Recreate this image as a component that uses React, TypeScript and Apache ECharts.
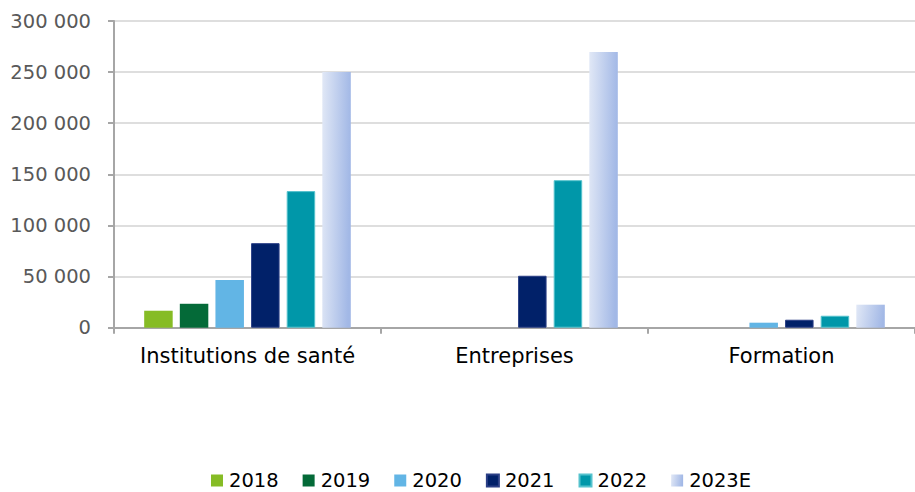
import React, { useEffect, useRef } from "react";
import * as echarts from "echarts";

const categories = ["Institutions de santé", "Entreprises", "Formation"];
const years = ["2018", "2019", "2020", "2021", "2022", "2023E"];
const values2018 = [16600, null, null];
const values2019 = [23400, null, null];
const values2020 = [46600, null, 4900];
const values2021 = [82700, 50800, 7800];
const values2022 = [133600, 144300, 11700];
const values2023E = [250000, 269700, 22500];
const yTicks = { min: 0, max: 300000, interval: 50000 };

const seriesValues = [values2018, values2019, values2020, values2021, values2022, values2023E];

const FONT = "DejaVu Sans, Verdana, sans-serif";

function fmt(v: number): string {
  return String(v).replace(/\B(?=(\d{3})+(?!\d))/g, " ");
}

export default function App() {
  const ref = useRef<HTMLDivElement>(null);
  useEffect(() => {
    if (!ref.current) return;
    const chart = echarts.init(ref.current, undefined, { renderer: "svg" });
    const gradient = new echarts.graphic.LinearGradient(0, 0, 1, 0.12, [
      { offset: 0, color: "#e1e8f6" },
      { offset: 1, color: "#a2b8e6" },
    ]);
    const colors: any[] = ["#86bc25", "#046a38", "#62b5e5", "#012169", "#0097a9", gradient];
    const borders: (string | undefined)[] = [undefined, undefined, undefined, "#2b3f86", "#55c2cd", undefined];
    chart.setOption({
      animation: false,
      grid: { left: 114, width: 807, top: 21, bottom: 164.3, containLabel: false },
      legend: {
        left: 211,
        top: 470.5,
        padding: 0,
        itemWidth: 12,
        itemHeight: 12,
        itemGap: 24,
        icon: "rect",
        textStyle: { fontFamily: FONT, fontSize: 19.5, lineHeight: 19, color: "#000", padding: [0, 0, 0, 1] },
        data: years,
      },
      xAxis: {
        type: "category",
        data: categories,
        axisLine: { lineStyle: { color: "#a6a6a6", width: 2 } },
        axisTick: { show: true, length: 6, lineStyle: { color: "#a6a6a6", width: 2 } },
        axisLabel: { interval: 0, fontFamily: FONT, fontSize: 21, color: "#000", margin: 18 },
      },
      yAxis: {
        type: "value",
        min: yTicks.min,
        max: yTicks.max,
        interval: yTicks.interval,
        axisLine: { show: true, lineStyle: { color: "#a6a6a6", width: 2 } },
        axisTick: { show: true, length: 6, lineStyle: { color: "#a6a6a6", width: 2 } },
        splitLine: { lineStyle: { color: "#dedede", width: 2 } },
        axisLabel: {
          fontFamily: FONT,
          fontSize: 19.5,
          color: "#595959",
          margin: 23,
          formatter: (v: number) => fmt(v),
        },
      },
      series: years.map((y, i) => ({
        name: y,
        type: "bar",
        data: seriesValues[i],
        barWidth: 28.5,
        barGap: "25%",
        itemStyle: {
          color: colors[i],
          borderColor: borders[i],
          borderWidth: borders[i] ? 1 : 0,
        },
      })),
    });
    return () => chart.dispose();
  }, []);
  return (
    <div
      ref={ref}
      style={{ position: "fixed", left: 0, top: 0, width: 915, height: 492, background: "#fff" }}
    />
  );
}
